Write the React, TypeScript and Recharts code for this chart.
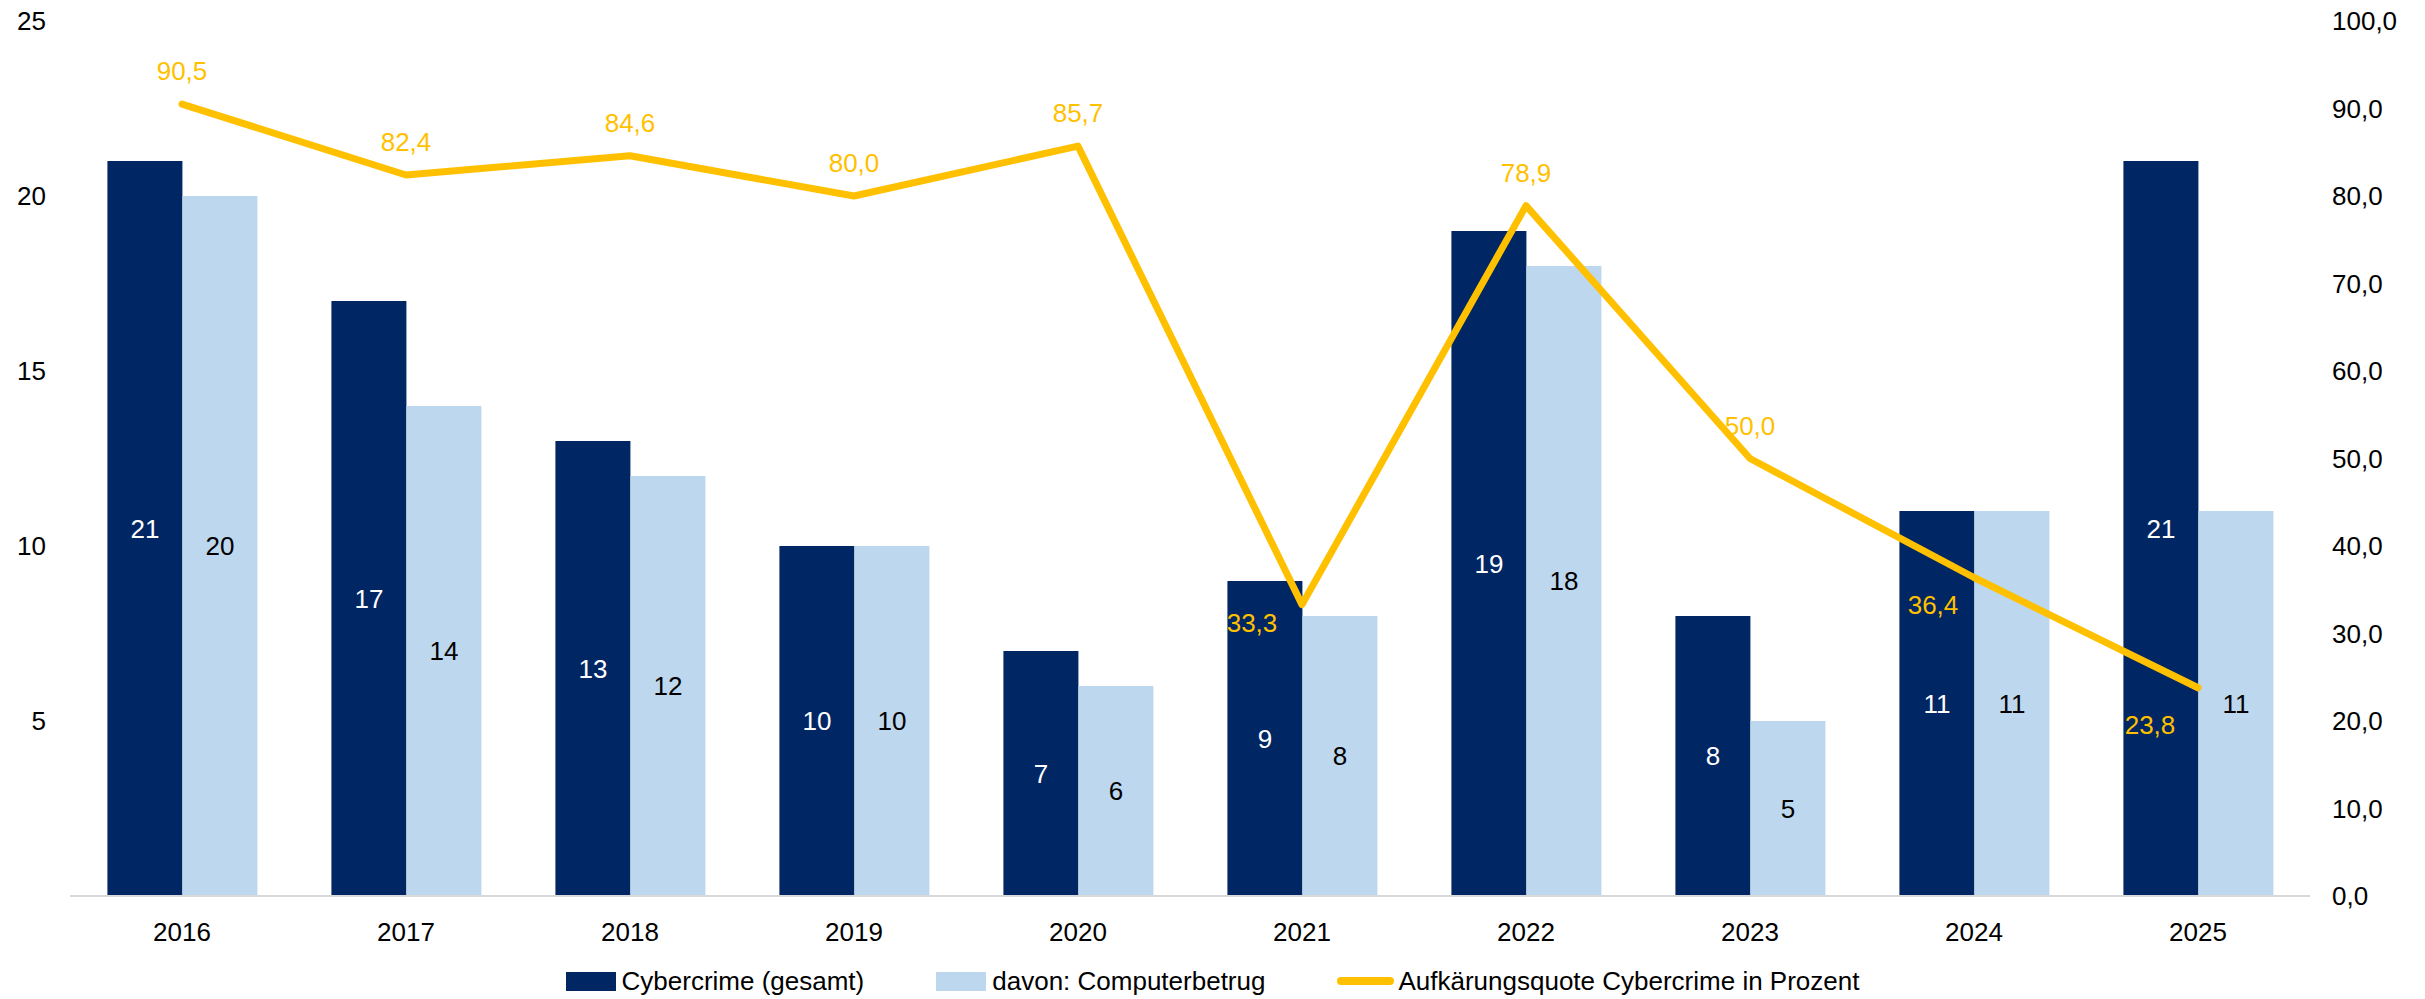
import React from 'react';
import { ComposedChart, Bar, Line, XAxis, YAxis, LabelList, Legend } from 'recharts';

const YEARS = ['2016', '2017', '2018', '2019', '2020', '2021', '2022', '2023', '2024', '2025'];
const CYBERCRIME = [21, 17, 13, 10, 7, 9, 19, 8, 11, 21];
const COMPUTERBETRUG = [20, 14, 12, 10, 6, 8, 18, 5, 11, 11];
const QUOTE = [90.5, 82.4, 84.6, 80.0, 85.7, 33.3, 78.9, 50.0, 36.4, 23.8];
const LEFT_TICKS = [5, 10, 15, 20, 25];
const RIGHT_TICKS = [0, 10, 20, 30, 40, 50, 60, 70, 80, 90, 100];

const NAME_TOTAL = 'Cybercrime (gesamt)';
const NAME_COMP = 'davon: Computerbetrug';
const NAME_QUOTE = 'Aufkärungsquote Cybercrime in Prozent';

const data = YEARS.map((year, i) => ({
  year,
  total: CYBERCRIME[i],
  comp: COMPUTERBETRUG[i],
  quote: QUOTE[i],
}));

const DARK = '#002663';
const LIGHT = '#BDD7EE';
const YELLOW = '#FFC000';
const FONT = '"Liberation Sans", Arial, sans-serif';
const FS = 26;

// label placement (style): offset of label centre from the point
const labelOffset = (i: number): [number, number] => {
  if (i === 5) return [-50, 18];
  if (i === 8) return [-41, 27];
  if (i === 9) return [-48, 37];
  return [0, -33];
};

const fmt = (v: number) => v.toFixed(1).replace('.', ',');

const QuoteLabel = (props: any) => {
  const { x, y, value, index } = props;
  const [dx, dy] = labelOffset(index);
  return (
    <text
      x={x + dx}
      y={y + dy}
      dy="0.35em"
      textAnchor="middle"
      fill={YELLOW}
      fontSize={FS}
      fontFamily={FONT}
    >
      {fmt(Number(value))}
    </text>
  );
};

const LegendContent = () => {
  const items = [
    { name: NAME_TOTAL, type: 'rect', color: DARK },
    { name: NAME_COMP, type: 'rect', color: LIGHT },
    { name: NAME_QUOTE, type: 'line', color: YELLOW },
  ];
  return (
    <div
      style={{
        display: 'flex',
        justifyContent: 'center',
        alignItems: 'center',
        height: 50,
        paddingTop: 14,
        boxSizing: 'border-box',
        fontFamily: FONT,
        fontSize: FS,
        color: '#000',
        gap: 72,
      }}
    >
      {items.map((it) => (
        <div key={it.name} style={{ display: 'flex', alignItems: 'center' }}>
          {it.type === 'rect' ? (
            <div style={{ width: 50, height: 19, background: it.color, marginRight: 6 }} />
          ) : (
            <div style={{ width: 57, height: 8, borderRadius: 4, background: it.color, marginRight: 4 }} />
          )}
          <span style={{ whiteSpace: 'nowrap' }}>{it.name}</span>
        </div>
      ))}
    </div>
  );
};

export default function App() {
  return (
    <div style={{ position: 'absolute', left: 0, top: 0, width: 2425, height: 999, background: '#fff', fontFamily: FONT }}>
      <ComposedChart
        width={2425}
        height={999}
        data={data}
        margin={{ top: 21, right: 0, bottom: 0, left: 0 }}
        barCategoryGap="16.7%"
        barGap={0}
      >
        <XAxis
          dataKey="year"
          tickLine={false}
          tickSize={0}
          tickMargin={27}
          axisLine={{ stroke: '#D9D9D9', strokeWidth: 2 }}
          tick={{ fill: '#000', fontSize: FS, fontFamily: FONT }}
          height={53}
        />
        <YAxis
          yAxisId="left"
          orientation="left"
          width={70}
          domain={[0, 25]}
          ticks={LEFT_TICKS}
          axisLine={false}
          tickLine={false}
          tickSize={0}
          tickMargin={24}
          tick={{ fill: '#000', fontSize: FS, fontFamily: FONT }}
        />
        <YAxis
          yAxisId="right"
          orientation="right"
          width={115}
          domain={[0, 100]}
          ticks={RIGHT_TICKS}
          axisLine={false}
          tickLine={false}
          tickSize={0}
          tickMargin={22}
          tickFormatter={fmt}
          tick={{ fill: '#000', fontSize: FS, fontFamily: FONT, textAnchor: 'start' }}
        />
        <Legend verticalAlign="bottom" height={50} content={<LegendContent />} />
        <Bar yAxisId="left" dataKey="total" name={NAME_TOTAL} fill={DARK} isAnimationActive={false}>
          <LabelList dataKey="total" position="center" fill="#fff" fontSize={FS} fontFamily={FONT} />
        </Bar>
        <Bar yAxisId="left" dataKey="comp" name={NAME_COMP} fill={LIGHT} isAnimationActive={false}>
          <LabelList dataKey="comp" position="center" fill="#000" fontSize={FS} fontFamily={FONT} />
        </Bar>
        <Line
          yAxisId="right"
          dataKey="quote"
          name={NAME_QUOTE}
          stroke={YELLOW}
          strokeWidth={7}
          strokeLinejoin="round"
          strokeLinecap="round"
          dot={false}
          isAnimationActive={false}
        >
          <LabelList dataKey="quote" content={<QuoteLabel />} />
        </Line>
      </ComposedChart>
    </div>
  );
}
